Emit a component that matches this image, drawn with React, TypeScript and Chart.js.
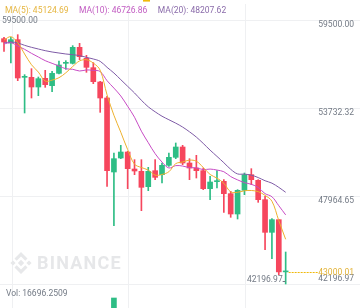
import React, { useEffect, useRef } from "react";
import { Chart, registerables } from "chart.js";

Chart.register(...registerables);

// ---- data ----
const opens = [58276, 57993, 58211, 55742, 55742, 55109, 55677, 55196, 56004, 56660, 56660, 57709, 56988, 56376, 55436, 54388, 49538, 50455, 50848, 49734, 49581, 48576, 49625, 49363, 49974, 50499, 51176, 50127, 49800, 49625, 48446, 48904, 48926, 48118, 46785, 48336, 49363, 48991, 47725, 45583, 46414, 42990];
const highs = [58364, 58364, 58539, 55917, 56310, 55764, 56201, 56135, 56813, 56835, 57818, 57971, 57184, 56703, 55480, 54497, 50783, 51285, 50892, 50346, 50346, 49843, 50346, 50127, 50783, 51439, 51285, 50411, 50630, 49800, 49254, 49625, 49035, 48271, 48380, 49472, 49756, 49035, 47943, 46479, 46414, 44294];
const lows = [57446, 56682, 55524, 53405, 54388, 54541, 55087, 54802, 55961, 56267, 56616, 56900, 56070, 55327, 53448, 48598, 46020, 50411, 48446, 49363, 47004, 48314, 49035, 48817, 49909, 50411, 50018, 49035, 49144, 48380, 47725, 48489, 46894, 46567, 46457, 48052, 48707, 47550, 44447, 43857, 42809, 42196.97];
const closes = [58058, 58211, 55699, 55764, 55109, 55655, 55262, 56004, 56551, 56725, 57709, 57097, 56398, 55458, 54388, 49625, 50411, 50848, 49756, 49603, 48533, 49581, 49188, 49974, 50499, 51176, 50127, 49800, 49625, 48446, 48882, 48926, 48118, 46785, 48336, 49363, 49035, 47725, 45583, 46414, 42990, 43000.01];

const ma5 = [58189, 58408, 58014, 57272, 56568, 56088, 55498, 55559, 55716, 56039, 56450, 56817, 56896, 56677, 56210, 54593, 53256, 52146, 51006, 50049, 49830, 49664, 49332, 49376, 49555, 50084, 50193, 50315, 50245, 49835, 49376, 49136, 48799, 48231, 48209, 48306, 48327, 48249, 48008, 47624, 46349, 45125];
const ma10 = [57927, 58014, 57796, 57578, 57315, 57075, 56835, 56660, 56485, 56304, 56269, 56157, 56227, 56197, 56125, 55522, 55037, 54521, 53842, 53129, 52212, 51460, 50739, 50191, 49802, 49957, 49928, 49824, 49811, 49695, 49730, 49664, 49557, 49238, 49022, 48841, 48732, 48524, 48120, 47917, 47327, 46727];
const ma20 = [57993, 58058, 57993, 57840, 57709, 57599, 57490, 57403, 57337, 57272, 57228, 57162, 57053, 56944, 56791, 56398, 56026, 55589, 55152, 54717, 54240, 53809, 53483, 53194, 52963, 52739, 52483, 52172, 51826, 51412, 50971, 50562, 50148, 49715, 49412, 49399, 49330, 49174, 48965, 48806, 48529, 48208];

// only the tallest volume bar peeks into view
const volumes: (number | null)[] = [null, null, null, null, null, null, null, null, null, null, null, null, null, null, null, null, 98000, null, null, null, null, null, null, null, null, null, null, null, null, null, null, null, null, null, null, null, null, null, null, null, null, null];

const priceTicks = [59500.0, 53732.32, 47964.65, 42196.97];
const maLabels = ["MA(5)", "MA(10)", "MA(20)"];
const maValues = [45124.69, 46726.86, 48207.62];
const lastPrice = 43000.01;
const highMarker = 59500.0;
const lowMarker = 42196.97;
const volLabel = "16696.2509";

// ---- styling / layout ----
const W = 360;
const H = 308;
const GREEN = "#2EBD85";
const RED = "#F6465D";
const MA_COLORS = ["#EDB12E", "#C74BC4", "#7E5BA6"];
const MA_TEXT = ["#E6B640", "#C25CC2", "#8A6BAA"];
const GRID = "#EFF0F2";
const AXIS_TEXT = "#737A85";
const FONT = "8.5px Roboto, 'Noto Sans', sans-serif";
const X_MIN = -0.582;
const X_MAX = 51.82;
const Y_MIN = 40624;
const Y_MAX = 60810.8;
const VOL_MAX = 3018400;
const GRID_X = [1.17, 18.05, 35.08, 52.0];

function fmt(v: number) {
  return v.toFixed(2);
}

export default function App() {
  const ref = useRef<HTMLCanvasElement>(null);

  useEffect(() => {
    document.body.style.margin = "0";
    const idx = closes.map((_, i) => i);
    const colors = idx.map((i) => (closes[i] >= opens[i] ? GREEN : RED));

    const deco = {
      id: "deco",
      beforeDatasetsDraw(chart: any) {
        const ctx = chart.ctx as CanvasRenderingContext2D;
        const xs = chart.scales.x;
        const ys = chart.scales.y;
        ctx.save();
        ctx.strokeStyle = GRID;
        ctx.lineWidth = 1;
        priceTicks.forEach((v) => {
          const y = Math.round(ys.getPixelForValue(v)) + 0.5;
          ctx.beginPath();
          ctx.moveTo(0, y);
          ctx.lineTo(W, y);
          ctx.stroke();
        });
        GRID_X.forEach((g) => {
          const x = Math.round(xs.getPixelForValue(g)) + 0.5;
          ctx.beginPath();
          ctx.moveTo(x, 4);
          ctx.lineTo(x, H);
          ctx.stroke();
        });
        // watermark logo
        const cx = 21;
        const cy = 263;
        ctx.fillStyle = "#E7E8EA";
        const diamond = (x: number, y: number, r: number) => {
          ctx.beginPath();
          ctx.moveTo(x, y - r);
          ctx.lineTo(x + r, y);
          ctx.lineTo(x, y + r);
          ctx.lineTo(x - r, y);
          ctx.closePath();
          ctx.fill();
        };
        diamond(cx, cy, 3.2);
        diamond(cx - 8, cy, 2.6);
        diamond(cx + 8, cy, 2.6);
        const chevron = (dir: number) => {
          ctx.beginPath();
          ctx.moveTo(cx, cy - dir * 11);
          ctx.lineTo(cx + 6.5, cy - dir * 4.5);
          ctx.lineTo(cx + 4.3, cy - dir * 2.3);
          ctx.lineTo(cx, cy - dir * 6.6);
          ctx.lineTo(cx - 4.3, cy - dir * 2.3);
          ctx.lineTo(cx - 6.5, cy - dir * 4.5);
          ctx.closePath();
          ctx.fill();
        };
        chevron(1);
        chevron(-1);
        ctx.font = "bold 18px Roboto, 'Noto Sans', sans-serif";
        (ctx as any).letterSpacing = "1.2px";
        ctx.textBaseline = "middle";
        ctx.textAlign = "left";
        ctx.fillStyle = "#E6E7E9";
        ctx.fillText("BINANCE", 37, 264);
        (ctx as any).letterSpacing = "0px";
        ctx.restore();
      },
      afterDatasetsDraw(chart: any) {
        const ctx = chart.ctx as CanvasRenderingContext2D;
        const xs = chart.scales.x;
        const ys = chart.scales.y;
        ctx.save();
        ctx.font = FONT;
        ctx.textBaseline = "middle";
        // legend
        let lx = 5;
        maLabels.forEach((l, i) => {
          const t = `${l}: ${fmt(maValues[i])}`;
          ctx.fillStyle = MA_TEXT[i];
          ctx.textAlign = "left";
          ctx.fillText(t, lx, 10.5);
          lx += ctx.measureText(t).width + 10.5;
        });
        // price axis labels
        ctx.fillStyle = AXIS_TEXT;
        ctx.textAlign = "right";
        const lowest = Math.min(...priceTicks);
        priceTicks.forEach((v) => {
          const y = ys.getPixelForValue(v);
          ctx.fillText(fmt(v), 354, v === lowest ? y - 5 : y + 5);
        });
        // high marker
        ctx.textAlign = "left";
        ctx.fillText(fmt(highMarker), 2, ys.getPixelForValue(highMarker) + 1);
        // low marker
        const lowIdx = lows.indexOf(lowMarker);
        const lxp = xs.getPixelForValue(lowIdx);
        const lyp = ys.getPixelForValue(lowMarker);
        ctx.textAlign = "right";
        ctx.fillText(fmt(lowMarker), lxp - 3, lyp - 4.5);
        ctx.strokeStyle = AXIS_TEXT;
        ctx.lineWidth = 1;
        ctx.beginPath();
        ctx.moveTo(lxp - 3, Math.round(lyp - 3) + 0.5);
        ctx.lineTo(lxp, Math.round(lyp - 3) + 0.5);
        ctx.stroke();
        // last price line
        const lastX = xs.getPixelForValue(closes.length - 1);
        const py = Math.round(ys.getPixelForValue(lastPrice)) + 0.5;
        ctx.strokeStyle = "#F0B90B";
        ctx.setLineDash([2, 1]);
        ctx.beginPath();
        ctx.moveTo(lastX + 3, py);
        ctx.lineTo(318, py);
        ctx.stroke();
        ctx.setLineDash([]);
        ctx.fillStyle = "#E2B236";
        ctx.textAlign = "right";
        ctx.fillText(fmt(lastPrice), 354, py);
        // volume label
        ctx.fillStyle = AXIS_TEXT;
        ctx.textAlign = "left";
        ctx.fillText(`Vol: ${volLabel}`, 6, 293.5);
        // tab indicator
        ctx.fillStyle = "#F0B90B";
        ctx.fillRect(143, 0, 7, 1.6);
        ctx.restore();
      },
    };

    const lineDs = (vals: number[], color: string, order: number) => ({
      type: "line" as const,
      data: idx.map((i) => ({ x: i, y: vals[i] })),
      borderColor: color,
      borderWidth: 1,
      pointRadius: 0,
      tension: 0.35,
      order,
      yAxisID: "y",
    });

    const chart = new Chart(ref.current as HTMLCanvasElement, {
      type: "bar",
      data: {
        datasets: [
          lineDs(ma5, MA_COLORS[0], 0),
          lineDs(ma10, MA_COLORS[1], 1),
          lineDs(ma20, MA_COLORS[2], 2),
          {
            type: "bar",
            data: idx.map((i) => ({ x: i, y: [opens[i], closes[i]] })),
            backgroundColor: colors,
            barThickness: 5,
            minBarLength: 1,
            grouped: false,
            borderWidth: 0,
            order: 4,
            yAxisID: "y",
          },
          {
            type: "bar",
            data: idx.map((i) => ({ x: i, y: [lows[i], highs[i]] })),
            backgroundColor: colors,
            barThickness: 1,
            grouped: false,
            borderWidth: 0,
            order: 5,
            yAxisID: "y",
          },
          {
            type: "bar",
            data: idx.map((i) => ({ x: i, y: volumes[i] })),
            backgroundColor: colors,
            barThickness: 5,
            grouped: false,
            borderWidth: 0,
            order: 6,
            yAxisID: "yv",
          },
        ] as any,
      },
      options: {
        animation: false,
        responsive: false,
        events: [],
        layout: { padding: 0 },
        plugins: { legend: { display: false }, tooltip: { enabled: false } },
        scales: {
          x: { type: "linear", min: X_MIN, max: X_MAX, display: false, offset: false },
          y: { type: "linear", min: Y_MIN, max: Y_MAX, display: false },
          yv: { type: "linear", min: 0, max: VOL_MAX, display: false },
        },
      } as any,
      plugins: [deco],
    });
    return () => chart.destroy();
  }, []);

  return (
    <div style={{ position: "absolute", left: 0, top: 0, width: W, height: H, background: "#fff" }}>
      <canvas ref={ref} width={W} height={H} style={{ display: "block", width: W, height: H }} />
    </div>
  );
}
